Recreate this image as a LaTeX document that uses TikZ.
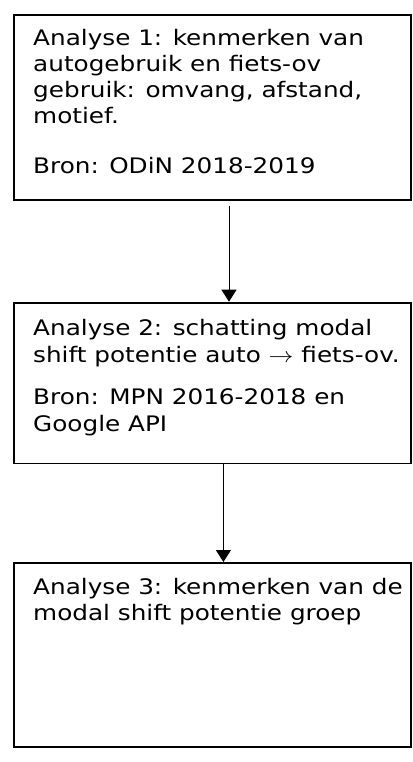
\documentclass[tikz,border=0pt]{standalone}
\usepackage{fontspec}
\usepackage{graphicx}
\setmainfont{DejaVu Sans}
\usetikzlibrary{arrows.meta}
\newcommand{\sqz}[1]{\scalebox{1}[0.865]{#1}}
\begin{document}
\begin{tikzpicture}[x=1pt,y=-1pt,
  box/.style={draw=black, line width=1.8pt, inner sep=0pt, anchor=north west, minimum width=397pt},
  txt/.style={anchor=base west, inner sep=0pt, font=\fontsize{24.7}{30}\selectfont},
  conn/.style={line width=1pt, -{Triangle[length=12pt,width=15pt]}}]
\useasboundingbox (0,0) rectangle (412,762);
\node[box, minimum height=184.3pt] (b1) at (13,14.5) {};
\node[box, minimum height=160.9pt] (b2) at (13,301.7) {};
\node[box, minimum height=184pt] (b3) at (13,562) {};
\node[txt] (t11) at (33,45.7) {\sqz{Analyse 1: kenmerken van}};
\node[txt] (t12) at (33,71.6) {\sqz{autogebruik en fiets-ov}};
\node[txt] (t13) at (33,97.6) {\sqz{gebruik: omvang, afstand,}};
\node[txt] (t14) at (33,123.5) {\sqz{motief.}};
\node[txt] (t15) at (33,173.7) {\sqz{Bron: ODiN 2018-2019}};
\node[txt] (t21) at (33,335.4) {\sqz{Analyse 2: schatting modal}};
\node[txt] (t22) at (33,362.2) {\sqz{shift potentie auto $\rightarrow$ fiets-ov.}};
\node[txt] (t23) at (33,404.6) {\sqz{Bron: MPN 2016-2018 en}};
\node[txt] (t24) at (33,431.4) {\sqz{Google API}};
\node[txt] (t31) at (33,594.1) {\sqz{Analyse 3: kenmerken van de}};
\node[txt] (t32) at (33,620.9) {\sqz{modal shift potentie groep}};
\coordinate (a1) at (229,205.7);
\draw[conn] (a1) -- (a1 |- b2.north);
\draw[conn] ([xshift=11pt]b2.south) -- ([xshift=11pt]b3.north);
\end{tikzpicture}
\end{document}
